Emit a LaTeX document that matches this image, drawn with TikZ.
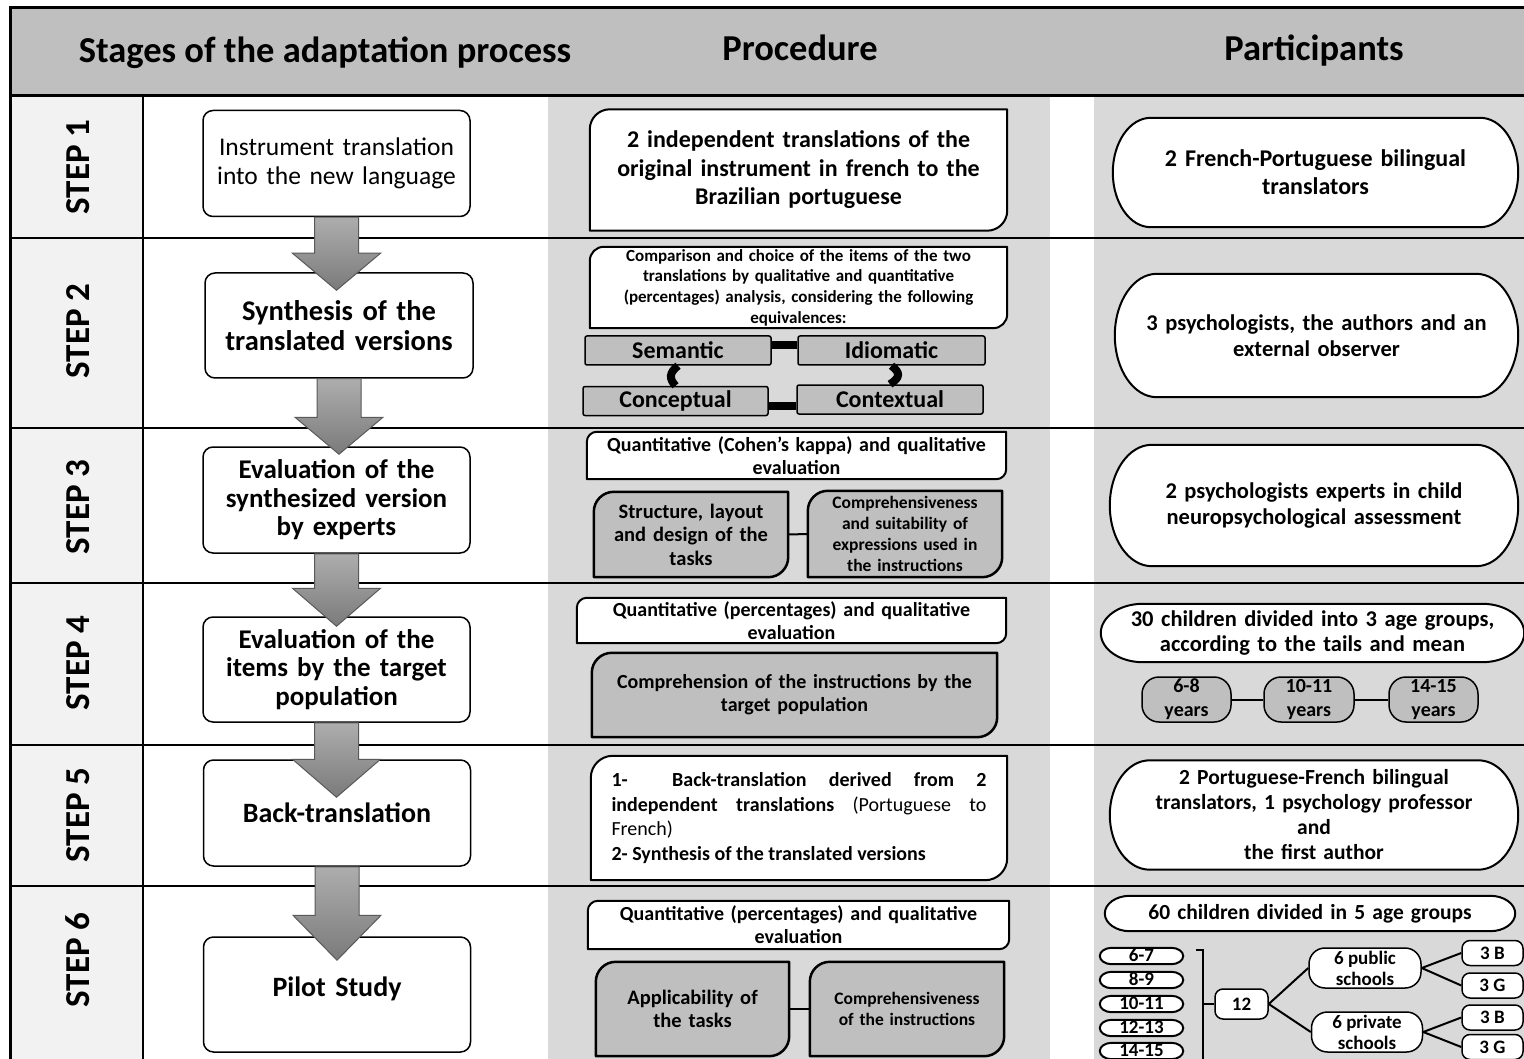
\documentclass[tikz,border=0pt]{standalone}
\usepackage{fontspec}
\setmainfont{Carlito}
\usetikzlibrary{calc}
\pgfdeclarelayer{bgA}
\pgfdeclarelayer{bgB}
\pgfsetlayers{bgA,bgB,main}
\definecolor{hdrgray}{HTML}{BFBFBF}
\definecolor{leftgray}{HTML}{F2F2F2}
\definecolor{colgray}{HTML}{D9D9D9}
\definecolor{boxgray}{HTML}{BFBFBF}
\newcommand\fsz[2]{\fontsize{#1}{#2}\selectfont}
% frame with rounded top-left and bottom-right corners
\newcommand\snipframe[4]{\begin{pgfonlayer}{bgB}\filldraw[fill=#3,line width=#4,line join=round] (#1.south west) -- ([yshift=-#2pt]#1.north west) arc[start angle=180,end angle=90,radius=#2pt] -- (#1.north east) -- ([yshift=#2pt]#1.south east) arc[start angle=0,end angle=-90,radius=#2pt] -- cycle;\end{pgfonlayer}}
% pill frame with elliptic ends
\newcommand\pillframe[3]{\begin{pgfonlayer}{bgB}\filldraw[fill=#3,line width=2pt] let \p1=(#1.north west), \p2=(#1.south east), \n1={(\y1-\y2)/2} in (\x1+#2pt,\y1) -- (\x2-#2pt,\y1) arc[start angle=90,end angle=-90,x radius=#2pt,y radius=\n1*1pt] -- (\x1+#2pt,\y2) arc[start angle=270,end angle=90,x radius=#2pt,y radius=\n1*1pt] -- cycle;\end{pgfonlayer}}
% block arrow from one stage box to the next: from, to, overlap, head length
\newcommand\blockarr[4]{\path let \p1=(#1.south), \p2=(#2.north) in [blockarrow] (\x1-22pt,\y1) -- (\x1+22pt,\y1) -- (\x1+22pt,\y2-#3pt+#4pt) -- (\x1+44pt,\y2-#3pt+#4pt) -- (\x1,\y2-#3pt) -- (\x1-44pt,\y2-#3pt+#4pt) -- (\x1-22pt,\y2-#3pt+#4pt) -- cycle;}
\begin{document}
\begin{tikzpicture}[x=1pt,y=-1pt,
 hdr/.style={font=\bfseries\fsz{36.5}{44}},
 steplbl/.style={font=\bfseries\fsz{35}{42},rotate=90},
 stage/.style={draw,line width=1.5pt,rounded corners=10pt,fill=white,inner sep=0pt,align=center,minimum width=267pt,minimum height=106pt,text width=255pt},
 proc/.style={inner sep=0pt,align=center},
 equiv/.style={draw,line width=1.5pt,fill=boxgray,rounded corners=2pt,inner sep=0pt,minimum height=29pt,font=\bfseries\fsz{24}{28}},
 part/.style={inner sep=0pt,align=center},
 agebox/.style={draw,line width=1.5pt,fill=boxgray,rounded corners=17pt,inner sep=0pt,minimum width=89pt,minimum height=45pt,align=center,font=\bfseries\fsz{20}{24}},
 smallbox/.style={draw,line width=1.5pt,fill=white,rounded corners=8pt,inner sep=0pt,align=center,font=\bfseries\fsz{19}{21}},
 agepill/.style={inner sep=0pt,minimum width=83pt,minimum height=16pt,text height=12pt,text depth=1pt,font=\bfseries\fsz{19}{21}},
 thinc/.style={line width=2pt},
 thickc/.style={line width=8pt},
 gridline/.style={line width=2.5pt},
 blockarrow/.style={top color=black!32,bottom color=black!52,draw=black!65,line width=1pt},
]
\useasboundingbox (0,0) rectangle (1524,1059);
% ---------- table background ----------
\begin{pgfonlayer}{bgA}
\fill[white] (0,0) rectangle (1524,1059);
\fill[hdrgray] (10,8) rectangle (1524,96);
\fill[leftgray] (10,96) rectangle (143,1059);
\fill[colgray] (548,96) rectangle (1050,1059);
\fill[colgray] (1094,96) rectangle (1524,1059);
\draw[line width=3pt] (10,1059) -- (10,8) -- (1524,8);
\draw[line width=3pt] (10,96) -- (1524,96);
\draw[gridline] (143,96) -- (143,1059);
\foreach \yy in {238,428,583,745,886} \draw[gridline] (10,\yy) -- (1524,\yy);
\end{pgfonlayer}
% ---------- headers ----------
\node[hdr] (h1) at (325,53) {Stages of the adaptation process};
\node[hdr] (h2) at (800,48) {Procedure};
\node[hdr] (h3) at (1314,51) {Participants};
% ---------- step labels ----------
\node[steplbl] (s1) at (78,167) {STEP 1};
\node[steplbl] (s2) at (78,331) {STEP 2};
\node[steplbl] (s3) at (78,507) {STEP 3};
\node[steplbl] (s4) at (78,663) {STEP 4};
\node[steplbl] (s5) at (78,815) {STEP 5};
\node[steplbl] (s6) at (78,960) {STEP 6};
% ---------- stages ----------
\node[stage,font=\fsz{25.5}{29}] (b1) at (336.5,163.5) {Instrument translation\\into the new language};
\node[stage,font=\bfseries\fsz{28.5}{30},minimum width=268pt,minimum height=105pt] (b2) at (339,325.5) {Synthesis of the\\translated versions};
\node[stage,font=\bfseries\fsz{27}{28.5}] (b3) at (336.5,500) {Evaluation of the\\synthesized version\\by experts};
\node[stage,font=\bfseries\fsz{27}{28.5},minimum height=105pt] (b4) at (336.5,669.5) {Evaluation of the\\items by the target\\population};
\node[stage,font=\bfseries\fsz{28}{30}] (b5) at (337,813) {Back-translation};
\node[stage,font=\bfseries\fsz{28}{30},minimum height=115pt,text depth=16pt] (b6) at (337,994.5) {Pilot Study};
\blockarr{b1}{b2}{18}{37}
\blockarr{b2}{b3}{8}{37}
\blockarr{b3}{b4}{10}{38}
\blockarr{b4}{b5}{38}{38}
\blockarr{b5}{b6}{24}{45}
% ---------- procedure ----------
\node[proc,font=\bfseries\fsz{24}{28.5},minimum width=417pt,minimum height=121pt,text width=405pt] (p1) at (798.5,170) {2 independent translations of the\\original instrument in french to the\\Brazilian portuguese};
\snipframe{p1}{20}{white}{2pt}
\node[proc,font=\bfseries\fsz{17}{20.7},minimum width=417pt,minimum height=81pt,text width=412pt] (p2) at (798.5,287.5) {Comparison and choice of the items of the two\\translations by qualitative and quantitative\\(percentages) analysis, considering the following\\equivalences:};
\snipframe{p2}{14}{white}{2pt}
\node[equiv,minimum width=186pt] (sem) at (678,350.5) {Semantic};
\node[equiv,minimum width=187pt] (idi) at (891.5,350.5) {Idiomatic};
\node[equiv,minimum width=185pt] (con) at (675.5,401) {Conceptual};
\node[equiv,minimum width=186pt] (ctx) at (890,399.5) {Contextual};
\draw[thickc] ([yshift=5pt]sem.east) -- ([yshift=5pt]idi.west);
\draw[thickc] ([yshift=-5pt]con.east) -- ([yshift=-6.5pt]ctx.west);
\draw[thickc] (sem.south) .. controls ([xshift=-9pt,yshift=-7pt]sem.south) and ([xshift=-6.5pt,yshift=7pt]con.north) .. (con.north);
\draw[thickc] (idi.south) .. controls ([xshift=9pt,yshift=-7pt]idi.south) and ([xshift=10.5pt,yshift=7pt]ctx.north) .. (ctx.north);
\node[proc,font=\bfseries\fsz{20}{23},minimum width=419pt,minimum height=47pt,text width=412pt] (p3) at (796.5,455.5) {Quantitative (Cohen’s kappa) and qualitative\\evaluation};
\snipframe{p3}{10}{white}{2pt}
\node[proc,font=\bfseries\fsz{20.5}{23.5},minimum width=194pt,minimum height=85pt,text width=185pt] (p3a) at (691,534.5) {Structure, layout\\and design of the\\tasks};
\snipframe{p3a}{20}{boxgray}{2.5pt}
\node[proc,font=\bfseries\fsz{17.5}{21},minimum width=194pt,minimum height=86pt,text width=188pt] (p3b) at (905,534) {Comprehensiveness\\and suitability of\\expressions used in\\the instructions};
\snipframe{p3b}{20}{boxgray}{2.5pt}
\draw[thinc] (p3a.east) -- (p3b.west);
\node[proc,font=\bfseries\fsz{20}{23},minimum width=429pt,minimum height=45pt,text width=420pt] (p4) at (791.5,620.5) {Quantitative (percentages) and qualitative\\evaluation};
\snipframe{p4}{10}{white}{2pt}
\node[proc,font=\bfseries\fsz{20}{23},minimum width=405pt,minimum height=84pt,text width=395pt] (p4a) at (794.5,695) {Comprehension of the instructions by the\\target population};
\snipframe{p4a}{20}{boxgray}{2.5pt}
\node[inner sep=0pt,align=justify,font=\fsz{20}{24.7},minimum width=416pt,minimum height=124pt,text width=375pt] (p5) at (799,818) {\parindent=0pt{\bfseries 1-\ \ Back-translation derived from 2}\linebreak{\bfseries independent translations} (Portuguese to\linebreak French)\par{\bfseries 2- Synthesis of the translated versions}};
\snipframe{p5}{22}{white}{2pt}
\node[proc,font=\bfseries\fsz{20}{23},minimum width=421pt,minimum height=48pt,text width=412pt] (p6) at (798.5,925) {Quantitative (percentages) and qualitative\\evaluation};
\snipframe{p6}{10}{white}{2pt}
\node[proc,font=\bfseries\fsz{20.5}{23},minimum width=193pt,minimum height=94pt,text width=185pt] (p6a) at (692.5,1009) {Applicability of\\the tasks};
\snipframe{p6a}{20}{boxgray}{2.5pt}
\node[proc,font=\bfseries\fsz{17.5}{20.5},minimum width=194pt,minimum height=94pt,text width=188pt] (p6b) at (907,1009) {Comprehensiveness\\of the instructions};
\snipframe{p6b}{20}{boxgray}{2.5pt}
\draw[thinc] (p6a.east) -- (p6b.west);
% ---------- participants ----------
\node[part,font=\bfseries\fsz{24}{28},minimum width=405pt,minimum height=109pt,text width=380pt] (q1) at (1315.5,172.5) {2 French-Portuguese bilingual\\translators};
\pillframe{q1}{38}{white}
\node[part,font=\bfseries\fsz{22.5}{26},minimum width=403pt,minimum height=123pt,text width=380pt] (q2) at (1316.5,335.5) {3 psychologists, the authors and an\\external observer};
\pillframe{q2}{42}{white}
\node[part,font=\bfseries\fsz{22.5}{26},minimum width=408pt,minimum height=121pt,text width=380pt] (q3) at (1314,505.5) {2 psychologists experts in child\\neuropsychological assessment};
\pillframe{q3}{42}{white}
\node[part,font=\bfseries\fsz{22.5}{25},minimum width=423pt,minimum height=58pt,text width=400pt] (q4) at (1312.5,633) {30 children divided into 3 age groups,\\according to the tails and mean};
\pillframe{q4}{42}{white}
\node[agebox] (a1) at (1186.5,699.5) {6-8\\years};
\node[agebox,minimum width=90pt] (a2) at (1309,699.5) {10-11\\years};
\node[agebox] (a3) at (1433.5,699.5) {14-15\\years};
\draw[thinc] (a1.east) -- (a2.west);
\draw[thinc] (a2.east) -- (a3.west);
\node[part,font=\bfseries\fsz{21.5}{25},minimum width=408pt,minimum height=109pt,text width=380pt] (q5) at (1314,815) {2 Portuguese-French bilingual\\translators, 1 psychology professor\\and\\the first author};
\pillframe{q5}{40}{white}
\node[part,font=\bfseries\fsz{21.5}{25},minimum width=410pt,minimum height=35pt,text width=380pt] (q6) at (1310,913.5) {60 children divided in 5 age groups};
\pillframe{q6}{25}{white}
\node[agepill] (g1) at (1141.5,956) {6-7};
\node[agepill] (g2) at (1141.5,980) {8-9};
\node[agepill] (g3) at (1141.5,1004) {10-11};
\node[agepill] (g4) at (1141.5,1028) {12-13};
\node[agepill] (g5) at (1141.5,1051) {14-15};
\foreach \g in {g1,g2,g3,g4,g5} {\pillframe{\g}{12}{white}}
\coordinate (brT) at (1196,950);
\coordinate (brC) at (1203,950);
\coordinate (brB) at (1203,1062);
\coordinate (brM) at (1203,1004);
\draw[thinc] (brT) -- (brC) -- (brB);
\node[smallbox,minimum width=53pt,minimum height=30pt] (n12) at (1241.5,1004) {12};
\draw[thinc] (brM) -- (n12.west);
\node[smallbox,rounded corners=16pt,minimum width=112pt,minimum height=40pt] (pub) at (1365,968) {6 public\\schools};
\node[smallbox,rounded corners=16pt,minimum width=111pt,minimum height=40pt] (pri) at (1367,1032) {6 private\\schools};
\node[smallbox,minimum width=61pt,minimum height=25pt] (b3a) at (1492.5,953) {3 B};
\node[smallbox,minimum width=61pt,minimum height=25pt] (g3a) at (1492.5,985.5) {3 G};
\node[smallbox,minimum width=61pt,minimum height=25pt] (b3b) at (1492.5,1017.5) {3 B};
\node[smallbox,minimum width=61pt,minimum height=25pt] (g3b) at (1492.5,1047) {3 G};
\draw[thinc] (n12.east) -- (pub.west);
\draw[thinc] (n12.east) -- (pri.west);
\draw[thinc] (pub.east) -- (b3a.west);
\draw[thinc] (pub.east) -- (g3a.west);
\draw[thinc] (pri.east) -- (b3b.west);
\draw[thinc] (pri.east) -- (g3b.west);
\end{tikzpicture}
\end{document}
